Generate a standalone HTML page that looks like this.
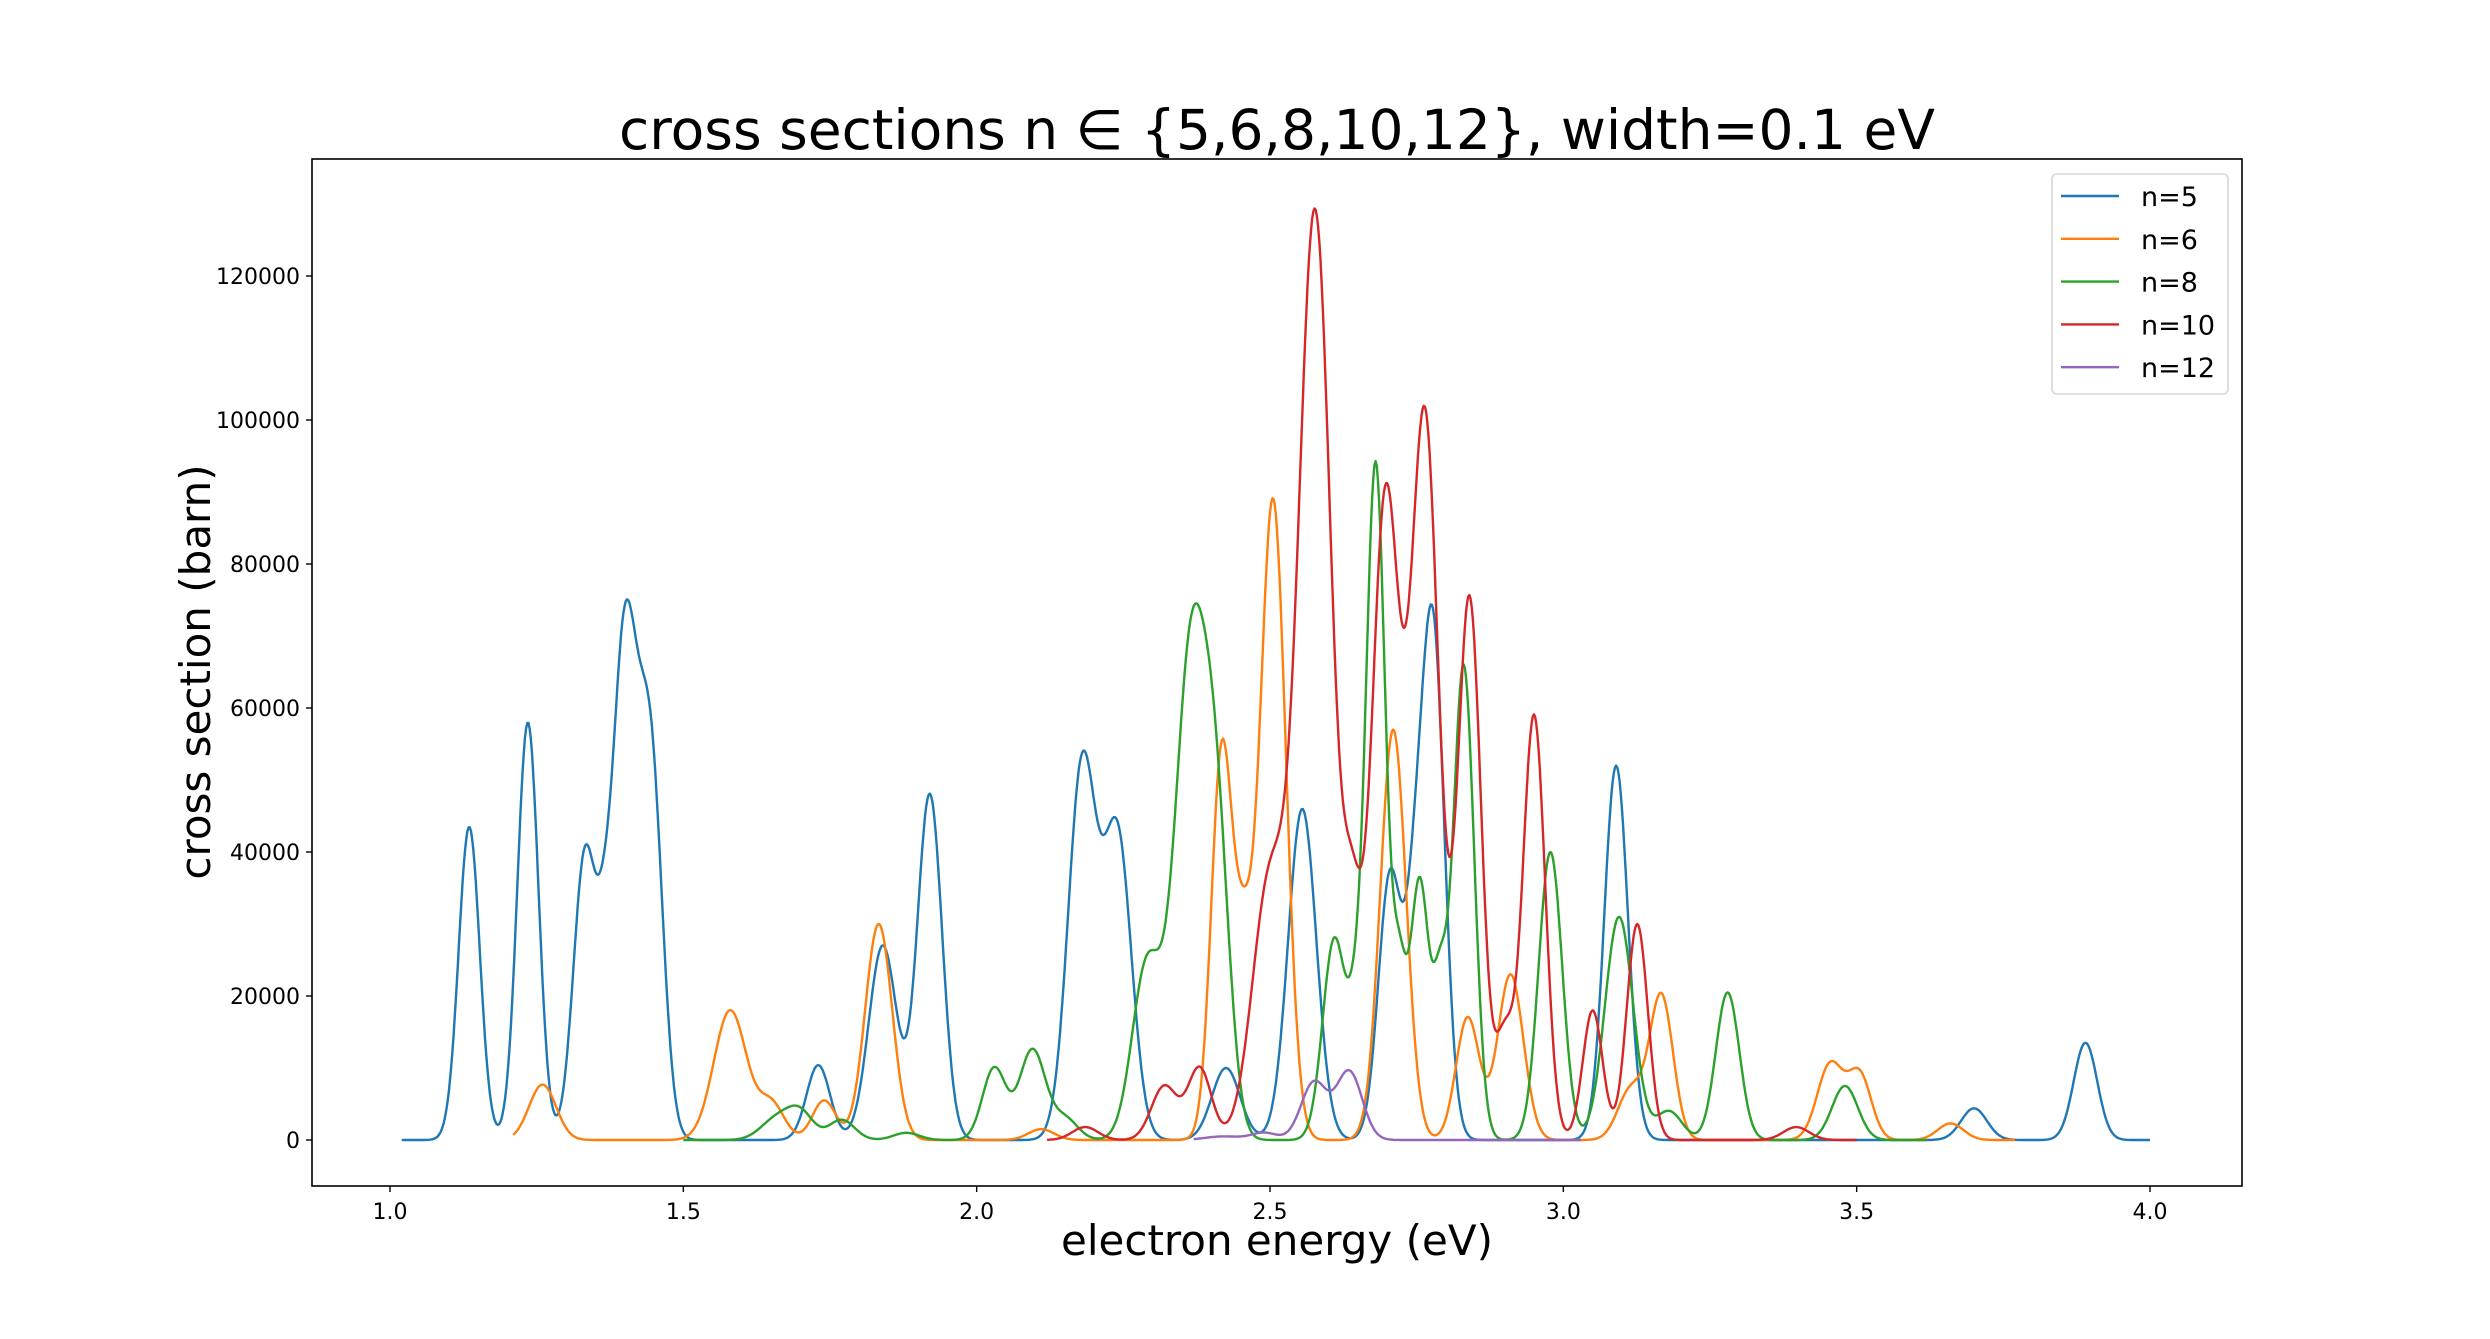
<!DOCTYPE html>
<html><head><meta charset="utf-8"><style>
html,body{margin:0;padding:0;background:#fff;}
svg text{font-family:"DejaVu Sans","Liberation Sans",sans-serif;fill:#000;}
</style></head><body>
<svg id="chart" width="2490" height="1334" viewBox="0 0 2490 1334" xmlns="http://www.w3.org/2000/svg">
<rect x="0" y="0" width="2490" height="1334" fill="#fff"/>
<text x="1277" y="149" font-size="55" text-anchor="middle">cross sections n ∈ {5,6,8,10,12}, width=0.1 eV</text>
<g id="plot"></g>
<rect x="312" y="159" width="1930" height="1027" fill="none" stroke="#000" stroke-width="1.6"/>
<g id="xticks"></g>
<g id="yticks"></g>
<text x="1277" y="1255" font-size="42" text-anchor="middle">electron energy (eV)</text>
<text x="0" y="0" font-size="42" text-anchor="middle" transform="translate(210,672) rotate(-90)">cross section (barn)</text>
<g id="legend">
<rect x="2052" y="174" width="176" height="220" rx="5" fill="#fff" fill-opacity="0.8" stroke="#d6d6d6" stroke-width="1.6"/>
</g>
</svg>
<script>
// ---- data ----
const seriesNames = ["n=5","n=6","n=8","n=10","n=12"];
const seriesColors = ["#1f77b4","#ff7f0e","#2ca02c","#d62728","#9467bd"];
const seriesRanges = [[1.02,4.0],[1.21,3.77],[1.50,3.62],[2.12,3.50],[2.37,3.03]];
// peak centres (eV), heights (barn), widths (eV)
const n5Centers = [1.135,1.235,1.333,1.365,1.400,1.445,1.73,1.84,1.92,2.18,2.24,2.425,2.555,2.705,2.745,2.777,3.09,3.70,3.89];
const n5Heights = [43500,58000,40000,9000,70000,50000,10400,27000,48000,52000,42000,10000,46000,37000,20000,72000,52000,4400,13500];
const n5Widths  = [0.018,0.018,0.020,0.012,0.022,0.020,0.020,0.024,0.021,0.024,0.024,0.024,0.024,0.020,0.015,0.020,0.020,0.022,0.020];
const n6Centers = [1.26,1.58,1.65,1.74,1.833,2.11,2.418,2.455,2.505,2.71,2.837,2.91,3.115,3.167,3.455,3.505,3.66];
const n6Heights = [7700,18000,5000,5500,30000,1500,54000,22000,89000,57000,17000,23000,7000,20000,10500,9000,2300];
const n6Widths  = [0.023,0.028,0.022,0.020,0.023,0.022,0.018,0.016,0.022,0.022,0.020,0.022,0.022,0.020,0.022,0.020,0.022];
const n8Centers = [1.66,1.70,1.77,1.88,2.03,2.095,2.15,2.29,2.366,2.41,2.61,2.645,2.68,2.72,2.755,2.79,2.83,2.978,3.095,3.18,3.28,3.48];
const n8Heights = [3000,3500,2800,1000,10000,12500,3000,24000,68000,35000,28000,10000,94000,20000,36000,18000,66000,40000,31000,4000,20500,7500];
const n8Widths  = [0.027,0.022,0.022,0.022,0.020,0.022,0.022,0.025,0.028,0.022,0.020,0.012,0.017,0.012,0.016,0.012,0.018,0.020,0.024,0.022,0.020,0.022];
const n10Centers = [2.185,2.32,2.38,2.50,2.577,2.64,2.697,2.764,2.84,2.90,2.95,3.05,3.126,3.397];
const n10Heights = [1800,7500,10000,36000,128000,25000,89000,100000,75000,14000,59000,18000,30000,1800];
const n10Widths  = [0.022,0.022,0.020,0.030,0.028,0.016,0.024,0.024,0.020,0.016,0.019,0.017,0.018,0.022];
const n12Centers = [2.42,2.49,2.575,2.635];
const n12Heights = [500,1000,8000,9500];
const n12Widths  = [0.030,0.022,0.022,0.022];
const xTicks = [1.0,1.5,2.0,2.5,3.0,3.5,4.0];
const xTickLabels = ["1.0","1.5","2.0","2.5","3.0","3.5","4.0"];
const yTicks = [0,20000,40000,60000,80000,100000,120000];
const yTickLabels = ["0","20000","40000","60000","80000","100000","120000"];

const allCenters = [n5Centers,n6Centers,n8Centers,n10Centers,n12Centers];
const allHeights = [n5Heights,n6Heights,n8Heights,n10Heights,n12Heights];
const allWidths = [n5Widths,n6Widths,n8Widths,n10Widths,n12Widths];

// ---- scales ----
const NS="http://www.w3.org/2000/svg";
function xs(e){return 390 + (e-1.0)*(2150-390)/3.0;}
function ys(v){return 1140 - v*(1140-276)/120000;}

const plot=document.getElementById('plot');
for(let s=0;s<seriesNames.length;s++){
  const c=allCenters[s],h=allHeights[s],w=allWidths[s];
  const [a,b]=seriesRanges[s];
  let d="";
  for(let e=a;e<=b+1e-9;e+=0.002){
    let v=0;
    for(let k=0;k<c.length;k++){const z=(e-c[k])/w[k];v+=h[k]*Math.exp(-0.5*z*z);}
    d+=(d?"L":"M")+xs(e).toFixed(1)+","+ys(v).toFixed(1);
  }
  const p=document.createElementNS(NS,'path');
  p.setAttribute('d',d);
  p.setAttribute('fill','none');
  p.setAttribute('stroke',seriesColors[s]);
  p.setAttribute('stroke-width','2.4');
  p.setAttribute('stroke-linejoin','round');
  
  
  plot.appendChild(p);
}

const xg=document.getElementById('xticks');
xTicks.forEach((t,i)=>{
  const l=document.createElementNS(NS,'line');
  l.setAttribute('x1',xs(t));l.setAttribute('x2',xs(t));
  l.setAttribute('y1',1186);l.setAttribute('y2',1192);
  l.setAttribute('stroke','#000');l.setAttribute('stroke-width','1.4');
  
  
  xg.appendChild(l);
  const tx=document.createElementNS(NS,'text');
  tx.setAttribute('x',xs(t));tx.setAttribute('y',1219);
  tx.setAttribute('font-size','22');tx.setAttribute('text-anchor','middle');
  tx.textContent=xTickLabels[i];
  
  
  xg.appendChild(tx);
});
const yg=document.getElementById('yticks');
yTicks.forEach((t,i)=>{
  const l=document.createElementNS(NS,'line');
  l.setAttribute('x1',306);l.setAttribute('x2',312);
  l.setAttribute('y1',ys(t));l.setAttribute('y2',ys(t));
  l.setAttribute('stroke','#000');l.setAttribute('stroke-width','1.4');
  
  
  yg.appendChild(l);
  const tx=document.createElementNS(NS,'text');
  tx.setAttribute('x',300);tx.setAttribute('y',ys(t)+8);
  tx.setAttribute('font-size','22');tx.setAttribute('text-anchor','end');
  tx.textContent=yTickLabels[i];
  
  
  yg.appendChild(tx);
});

const lg=document.getElementById('legend');
seriesNames.forEach((n,i)=>{
  const y=196+i*42.8;
  const l=document.createElementNS(NS,'line');
  l.setAttribute('x1',2061);l.setAttribute('x2',2119);
  l.setAttribute('y1',y);l.setAttribute('y2',y);
  l.setAttribute('stroke',seriesColors[i]);l.setAttribute('stroke-width','2.4');
  
  
  lg.appendChild(l);
  const tx=document.createElementNS(NS,'text');
  tx.setAttribute('x',2141);tx.setAttribute('y',y+10);
  tx.setAttribute('font-size','27');
  tx.textContent=n;
  
  
  lg.appendChild(tx);
});
</script>
</body></html>
